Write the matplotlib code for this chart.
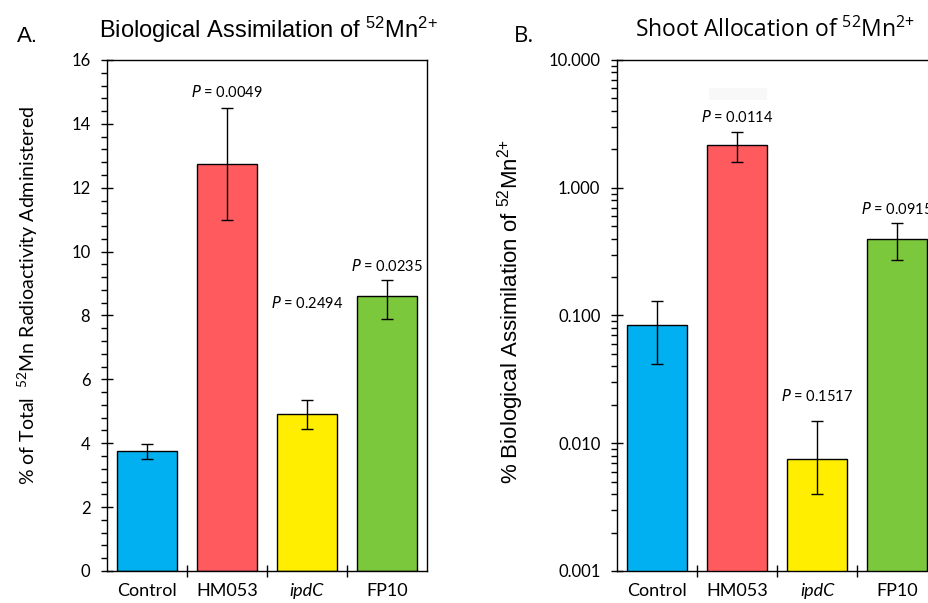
import matplotlib
matplotlib.use("Agg")
import matplotlib.pyplot as plt
from matplotlib.ticker import AutoMinorLocator, FixedLocator, LogLocator, NullFormatter

plt.rcParams["mathtext.default"] = "regular"

# -----------------------------
# Data
# -----------------------------
souches = ["Control", "HM053", "ipdC", "FP10"]
couleurs = ["#00b0f0", "#ff5b5f", "#ffee00", "#7cc83c"]

# A. Biological assimilation (% of total 52Mn administered)
assim = [3.75, 12.75, 4.9, 8.6]
assim_bas = [3.5, 11.0, 4.45, 7.9]
assim_haut = [3.97, 14.5, 5.35, 9.1]
assim_p = [None, "0.0049", "0.2494", "0.0235"]
assim_p_y = [None, 15.0, 8.4, 9.55]

# B. Shoot allocation (% of biological assimilation, log scale)
pousse = [0.085, 2.15, 0.0075, 0.40]
pousse_bas = [0.042, 1.6, 0.004, 0.27]
pousse_haut = [0.13, 2.75, 0.015, 0.53]
pousse_p = [None, "0.0114", "0.1517", "0.0915"]
pousse_p_y = [None, 3.6, 0.0235, 0.68]

police_ticks = "Lato"
police_titre = "Liberation Sans"

fig = plt.figure(figsize=(9.29, 6.03), dpi=100)
axA = fig.add_axes([0.1152, 0.0531, 0.3445, 0.8474])
axB = fig.add_axes([0.6642, 0.0531, 0.3445, 0.8474])

x = list(range(len(souches)))


def tracer(ax, val, bas, haut, pvals, py):
    err = [[v - b for v, b in zip(val, bas)], [h - v for v, h in zip(val, haut)]]
    ax.bar(x, val, width=0.74, color=couleurs, edgecolor="black", linewidth=1.0,
           yerr=err, error_kw=dict(ecolor="black", elinewidth=1.0, capsize=4, capthick=1.0))
    for i, (p, y) in enumerate(zip(pvals, py)):
        if p is None:
            continue
        ax.text(i, y, f"$\\it{{P}}$ = {p}", ha="center", va="center",
                fontsize=10.5, family=police_ticks, clip_on=False)
    ax.set_xlim(-0.5, 3.5)
    ax.set_xticks(x)
    ax.set_xticklabels(souches, fontsize=13, family=police_ticks)
    ax.get_xticklabels()[2].set_style("italic")
    ax.xaxis.set_minor_locator(FixedLocator([0.5, 1.5, 2.5]))
    ax.tick_params(axis="x", which="major", length=0, pad=9)
    ax.tick_params(axis="x", which="minor", direction="inout", length=8, width=1)
    ax.tick_params(axis="y", which="major", direction="inout", length=8, width=1,
                   labelsize=12, pad=8)
    ax.tick_params(axis="y", which="minor", direction="out", length=4, width=1)
    for s in ax.spines.values():
        s.set_linewidth(1.0)


# Panel A
tracer(axA, assim, assim_bas, assim_haut, assim_p, assim_p_y)
axA.set_ylim(0, 16)
axA.set_yticks(range(0, 17, 2))
axA.set_yticklabels([str(v) for v in range(0, 17, 2)], family=police_ticks, fontsize=12)
axA.yaxis.set_minor_locator(AutoMinorLocator(5))
axA.set_ylabel("% of Total  $^{52}$Mn Radioactivity Administered",
               fontsize=14, family=police_ticks, va="center")
axA.yaxis.set_label_coords(-0.247, 0.54)

# Panel B
tracer(axB, pousse, pousse_bas, pousse_haut, pousse_p, pousse_p_y)
axB.set_yscale("log")
axB.set_ylim(0.001, 10)
ticksB = [0.001, 0.01, 0.1, 1, 10]
axB.set_yticks(ticksB)
axB.set_yticklabels([f"{v:.3f}" for v in ticksB], family=police_ticks, fontsize=12)
axB.yaxis.set_minor_locator(LogLocator(base=10, subs=range(2, 10)))
axB.yaxis.set_minor_formatter(NullFormatter())
axB.set_ylabel("% Biological Assimilation of $^{52}$Mn$^{2{+}}$",
               fontsize=16, family=police_titre, va="center")
axB.yaxis.set_label_coords(-0.334, 0.508)

# faint grey patch behind the HM053 P value (present in the original figure)
axB.axvspan(0.65, 1.38, ymin=0.922, ymax=0.945, color="#f8f8f8", zorder=0, lw=0)

# Titres
fig.text(0.018, 0.94, "A.", fontsize=16, family=police_titre, va="center")
fig.text(0.289, 0.95, "Biological Assimilation of $^{52}$Mn$^{2{+}}$",
         fontsize=17, family=police_titre, ha="center", va="center")
fig.text(0.553, 0.94, "B.", fontsize=16, family="Open Sans", va="center")
fig.text(0.834, 0.95, "Shoot Allocation of $^{52}$Mn$^{2{+}}$",
         fontsize=16.5, family="Open Sans", ha="center", va="center")

fig.savefig("out.png", dpi=100)
